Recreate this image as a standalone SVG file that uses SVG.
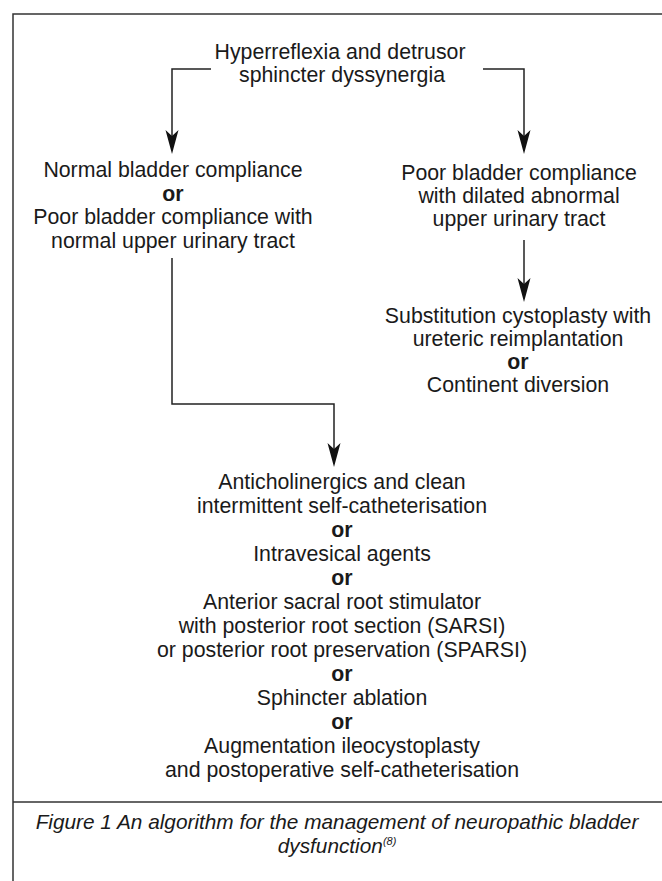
<svg xmlns="http://www.w3.org/2000/svg" width="662" height="881" viewBox="0 0 662 881">
<style>
  .t { font-family: "Liberation Sans", Arial, sans-serif; font-size: 21.3px; fill: #1a1a1a; text-anchor: middle; }
  .b { font-weight: bold; }
  .cap { font-family: "Liberation Sans", Arial, sans-serif; font-size: 20.8px; font-style: italic; fill: #1a1a1a; text-anchor: middle; }
  .frame { stroke: #333; stroke-width: 1.5; fill: none; }
  .conn { stroke: #222; stroke-width: 1.5; fill: none; marker-end: url(#arr); }
</style>
<defs>
  <marker id="arr" markerUnits="userSpaceOnUse" viewBox="-20 -10 30 20" refX="0" refY="0" markerWidth="30" markerHeight="20" orient="auto" overflow="visible">
    <path d="M8,0 L-16,-6.5 L-10,0 L-16,6.5 Z" fill="#111"/>
  </marker>
</defs>
<rect width="662" height="881" fill="#fff"/>
<g id="frame">
  <path class="frame" d="M662,14 H13 V881"/>
  <path class="frame" d="M13,802 H662"/>
</g>
<g id="connectors">
  <path class="conn" d="M211,69 H172 V146"/>
  <path class="conn" d="M483,69 H524 V146"/>
  <path class="conn" d="M524,240 V294"/>
  <path class="conn" d="M172,258 V404 H334 V459"/>
</g>
<g id="n-start">
  <text class="t" x="340" y="59">Hyperreflexia and detrusor</text>
  <text class="t" x="342" y="82">sphincter dyssynergia</text>
</g>
<g id="n-left">
  <text class="t" x="173" y="177">Normal bladder compliance</text>
  <text class="t b" x="173" y="200.5">or</text>
  <text class="t" x="173" y="224">Poor bladder compliance with</text>
  <text class="t" x="173" y="247.5">normal upper urinary tract</text>
</g>
<g id="n-right">
  <text class="t" x="519" y="180">Poor bladder compliance</text>
  <text class="t" x="519" y="203">with dilated abnormal</text>
  <text class="t" x="519" y="226">upper urinary tract</text>
</g>
<g id="n-right-treatment">
  <text class="t" x="518" y="323">Substitution cystoplasty with</text>
  <text class="t" x="518" y="346">ureteric reimplantation</text>
  <text class="t b" x="518" y="369">or</text>
  <text class="t" x="518" y="392">Continent diversion</text>
</g>
<g id="n-bottom">
  <text class="t" x="342" y="489.3">Anticholinergics and clean</text>
  <text class="t" x="342" y="513.3">intermittent self-catheterisation</text>
  <text class="t b" x="342" y="537.3">or</text>
  <text class="t" x="342" y="561.3">Intravesical agents</text>
  <text class="t b" x="342" y="585.3">or</text>
  <text class="t" x="342" y="609.3">Anterior sacral root stimulator</text>
  <text class="t" x="342" y="633.3">with posterior root section (SARSI)</text>
  <text class="t" x="342" y="657.3">or posterior root preservation (SPARSI)</text>
  <text class="t b" x="342" y="681.3">or</text>
  <text class="t" x="342" y="705.3">Sphincter ablation</text>
  <text class="t b" x="342" y="729.3">or</text>
  <text class="t" x="342" y="753.3">Augmentation ileocystoplasty</text>
  <text class="t" x="342" y="777.3">and postoperative self-catheterisation</text>
</g>
<g id="caption">
  <text class="cap" x="337" y="829">Figure 1 An algorithm for the management of neuropathic bladder</text>
  <text class="cap" x="337" y="853">dysfunction<tspan font-size="11" dy="-8">(8)</tspan></text>
</g>
</svg>
